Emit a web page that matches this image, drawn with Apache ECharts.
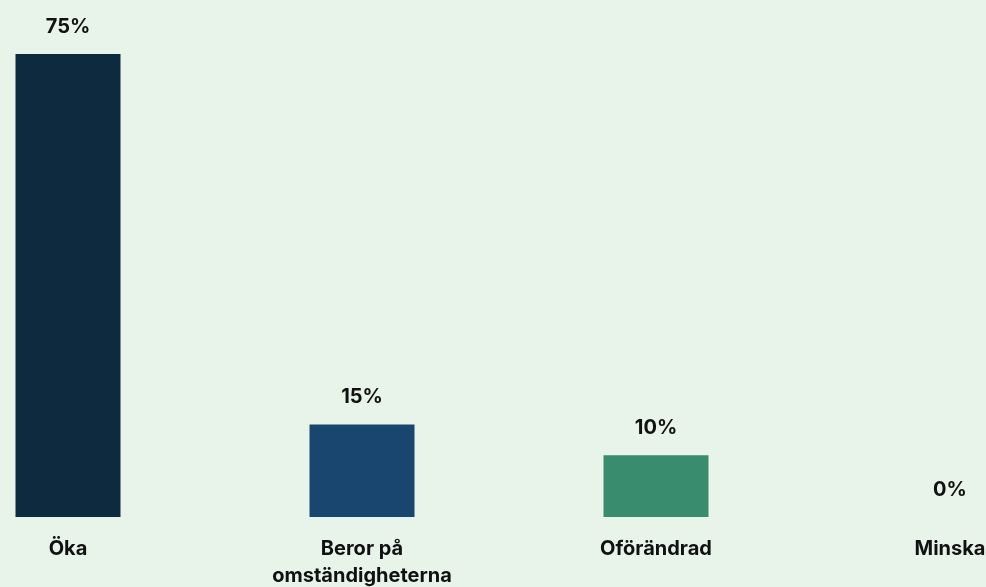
<!DOCTYPE html>
<html><head><meta charset="utf-8">
<style>html,body{margin:0;padding:0;background:#e8f4ea;}#c{width:986px;height:587px;}</style>
<script src="https://cdn.jsdelivr.net/npm/echarts@6/dist/echarts.min.js"></script>
</head><body><div id="c"></div>
<script>
const categories = ["Öka", "Beror på\nomständigheterna", "Oförändrad", "Minska"];
const values = [75, 15, 10, 0];
const barColors = ["#0d2a3e", "#18466f", "#3a8c6e", "#3a8c6e"];

const chart = echarts.init(document.getElementById('c'), null, {renderer: 'canvas'});
const font = 'Inter, "Noto Sans", sans-serif';
chart.setOption({
  backgroundColor: '#e8f4ea',
  animation: false,
  grid: {left: 68, right: 36, top: 54, bottom: 70, containLabel: false, outerBoundsMode: 'none'},
  xAxis: {
    type: 'category', data: categories, boundaryGap: false,
    axisLine: {show: false}, axisTick: {show: false},
    axisLabel: {color: '#111', fontFamily: font, fontWeight: 'bold', fontSize: 20, lineHeight: 27, margin: 18, interval: 0}
  },
  yAxis: {type: 'value', min: 0, max: 75, show: false, splitLine: {show: false}},
  series: [{
    type: 'bar', barWidth: 105,
    data: values.map((v, i) => ({value: v, itemStyle: {color: barColors[i]}})),
    label: {show: true, position: 'top', distance: 17, formatter: '{c}%', color: '#111', fontFamily: font, fontWeight: 'bold', fontSize: 20}
  }]
});
</script></body></html>
